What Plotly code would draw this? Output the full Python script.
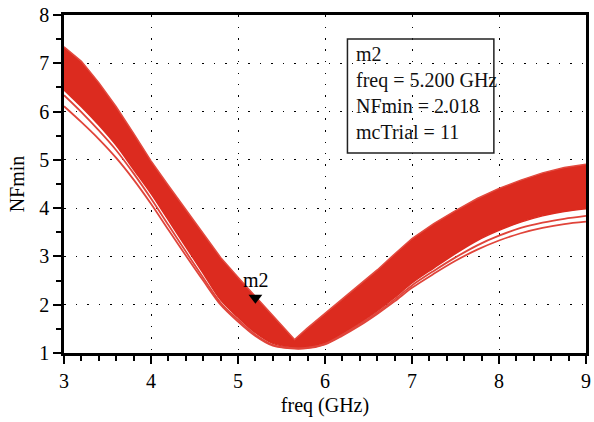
import plotly.graph_objects as go

# ---- data ----
freq = [3.0, 3.2, 3.4, 3.6, 3.8, 4.0, 4.2, 4.4, 4.6, 4.8, 5.0, 5.2, 5.4, 5.65, 5.8,
        6.0, 6.2, 6.4, 6.6, 6.8, 7.0, 7.25, 7.5, 7.75, 8.0, 8.25, 8.5, 8.75, 9.0]
nf_upper = [7.34, 7.04, 6.6, 6.1, 5.55, 4.98, 4.47, 3.97, 3.48, 2.98, 2.57, 2.18, 1.78, 1.28, 1.52,
            1.82, 2.12, 2.42, 2.72, 3.05, 3.37, 3.68, 3.95, 4.2, 4.41, 4.58, 4.73, 4.84, 4.91]
nf_main_lower = [6.45, 6.1, 5.72, 5.3, 4.8, 4.3, 3.75, 3.2, 2.65, 2.1, 1.74, 1.42, 1.2, 1.11, 1.12,
                 1.2, 1.39, 1.62, 1.87, 2.15, 2.45, 2.76, 3.06, 3.33, 3.54, 3.71, 3.84, 3.93, 3.99]
nf_trial_a = [6.34, 5.99, 5.61, 5.2, 4.72, 4.2, 3.65, 3.1, 2.56, 2.04, 1.69, 1.38, 1.17, 1.1, 1.11,
              1.19, 1.38, 1.6, 1.84, 2.11, 2.4, 2.7, 2.98, 3.23, 3.43, 3.59, 3.7, 3.78, 3.84]
nf_trial_b = [6.11, 5.78, 5.43, 5.04, 4.59, 4.09, 3.55, 3.02, 2.5, 2.0, 1.65, 1.35, 1.15, 1.09, 1.1,
              1.18, 1.36, 1.57, 1.81, 2.07, 2.35, 2.64, 2.91, 3.14, 3.33, 3.48, 3.59, 3.67, 3.72]

marker_name = "m2"
marker_freq = 5.2
marker_nf = 2.018
marker_trial = 11

x_ticks = [3, 4, 5, 6, 7, 8, 9]
y_ticks = [1, 2, 3, 4, 5, 6, 7, 8]

RED = "#dc2b1f"
FONT = "Liberation Serif"
SHAPE = dict(shape="spline", smoothing=0.9)

fig = go.Figure()

fig.add_trace(go.Scatter(x=freq, y=nf_main_lower, mode="lines",
                         line=dict(color=RED, width=1.5, **SHAPE),
                         hoverinfo="skip", showlegend=False))
fig.add_trace(go.Scatter(x=freq, y=nf_upper, mode="lines", fill="tonexty", fillcolor=RED,
                         line=dict(color="#e24a3f", width=1.5, shape="linear"),
                         hoverinfo="skip", showlegend=False))
for tr in (nf_trial_a, nf_trial_b):
    fig.add_trace(go.Scatter(x=freq, y=tr, mode="lines",
                             line=dict(color="#e0443a", width=1.8, **SHAPE),
                             hoverinfo="skip", showlegend=False))

# marker triangle: tip at the marker value (offset half the symbol height)
px_per_unit = 338 / 7.0
msize = 12
fig.add_trace(go.Scatter(x=[marker_freq], y=[marker_nf + (msize / 2) / px_per_unit],
                         mode="markers",
                         marker=dict(symbol="triangle-down", size=msize, color="black"),
                         hoverinfo="skip", showlegend=False))
fig.add_annotation(x=marker_freq, y=marker_nf, xref="x", yref="y", text=marker_name,
                   showarrow=False, yanchor="bottom", yshift=11, xshift=1,
                   font=dict(family=FONT, size=20, color="black"))

# marker readout box
fig.add_shape(type="rect", xref="paper", yref="paper", x0=0.543, x1=0.8235, y0=0.592, y1=0.929,
              line=dict(color="#222222", width=1.5), fillcolor="rgba(0,0,0,0)")
readout = (f"{marker_name}<br>freq = {marker_freq:.3f} GHz<br>"
           f"NFmin = {marker_nf:.3f}<br>mcTrial = {marker_trial}")
fig.add_annotation(xref="paper", yref="paper", x=0.555, y=0.768, xanchor="left", yanchor="middle",
                   text=readout, showarrow=False, align="left",
                   font=dict(family=FONT, size=20, color="#111111"))

grid = dict(showgrid=True, gridcolor="black", gridwidth=1.3, griddash="1.5px,10px")

fig.update_xaxes(range=[3, 9], tickvals=x_ticks, ticks="outside", ticklen=8, tickwidth=2,
                 tickcolor="black", showline=True, linecolor="black", linewidth=2.5, mirror=True,
                 zeroline=False,
                 minor=dict(dtick=0.2, ticks="outside", ticklen=5, tickwidth=2, tickcolor="black",
                            showgrid=False),
                 title=dict(text="freq (GHz)", font=dict(family=FONT, size=20, color="black"),
                            standoff=8),
                 tickfont=dict(family=FONT, size=20, color="black"), **grid)
fig.update_yaxes(range=[1, 8], tickvals=y_ticks, ticks="outside", ticklen=8, tickwidth=2,
                 tickcolor="black", showline=True, linecolor="black", linewidth=2.5, mirror=True,
                 zeroline=False,
                 minor=dict(dtick=0.5, ticks="outside", ticklen=5, tickwidth=2, tickcolor="black",
                            showgrid=False),
                 title=dict(text="NFmin", font=dict(family=FONT, size=20, color="black"),
                            standoff=10),
                 tickfont=dict(family=FONT, size=20, color="black"), **grid)

fig.update_layout(width=594, height=422, margin=dict(l=64, r=3, t=15, b=69),
                  paper_bgcolor="white", plot_bgcolor="white",
                  font=dict(family=FONT, color="black"))

fig.write_html("out.html")
